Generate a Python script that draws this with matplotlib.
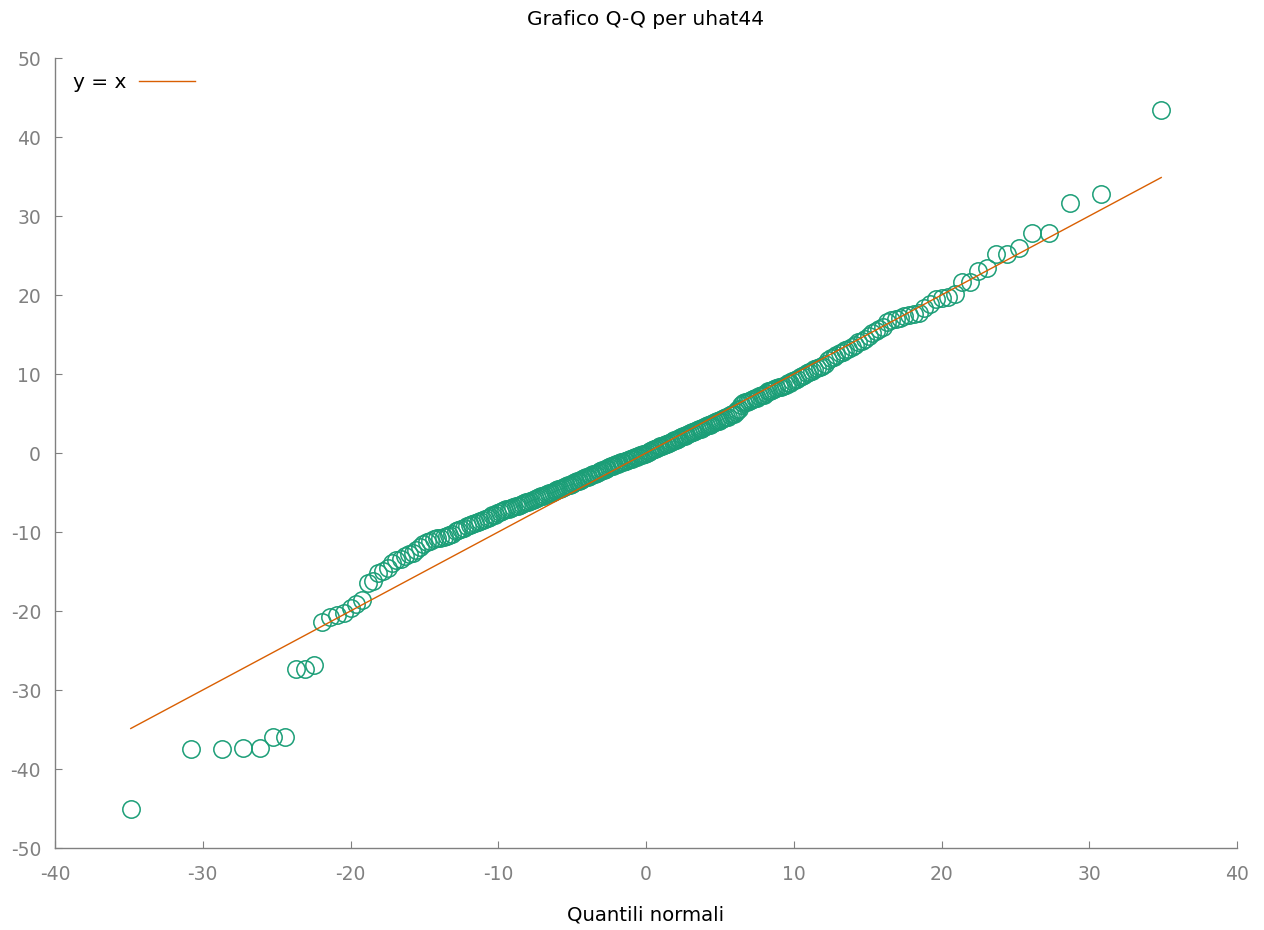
import matplotlib
matplotlib.use("Agg")
import matplotlib.pyplot as plt

plt.rcParams["axes.unicode_minus"] = False

# theoretical normal quantiles (x) and sorted residuals uhat44 (y)
qx = [
    -34.87, -30.80, -28.70, -27.25, -26.15, -25.22, -24.45, -23.72, -23.08, -22.46,
    -21.91, -21.37, -20.89, -20.44, -20.00, -19.60, -19.21, -18.82, -18.46, -18.14,
    -17.81, -17.48, -17.19, -16.90, -16.61, -16.32, -16.05, -15.80, -15.56, -15.30,
    -15.06, -14.82, -14.60, -14.37, -14.15, -13.92, -13.70, -13.49, -13.30, -13.10,
    -12.89, -12.70, -12.50, -12.31, -12.13, -11.94, -11.77, -11.59, -11.40, -11.22,
    -11.06, -10.89, -10.72, -10.56, -10.39, -10.22, -10.06, -9.89, -9.74, -9.60,
    -9.45, -9.29, -9.14, -8.99, -8.83, -8.68, -8.54, -8.39, -8.25, -8.11,
    -7.97, -7.82, -7.68, -7.54, -7.41, -7.26, -7.13, -7.00, -6.86, -6.73,
    -6.59, -6.46, -6.32, -6.19, -6.06, -5.94, -5.80, -5.68, -5.55, -5.43,
    -5.29, -5.17, -5.04, -4.92, -4.79, -4.67, -4.55, -4.43, -4.30, -4.18,
    -4.06, -3.94, -3.81, -3.69, -3.57, -3.45, -3.34, -3.21, -3.09, -2.98,
    -2.86, -2.73, -2.62, -2.50, -2.38, -2.26, -2.14, -2.03, -1.91, -1.80,
    -1.68, -1.56, -1.45, -1.33, -1.21, -1.10, -0.98, -0.87, -0.75, -0.63,
    -0.52, -0.41, -0.29, -0.17, -0.06,
    0.06, 0.17, 0.29, 0.41, 0.52, 0.63, 0.75, 0.87, 0.98, 1.10,
    1.21, 1.33, 1.45, 1.56, 1.68, 1.80, 1.91, 2.03, 2.14, 2.26,
    2.38, 2.50, 2.62, 2.73, 2.86, 2.98, 3.09, 3.21, 3.34, 3.45,
    3.57, 3.69, 3.81, 3.94, 4.06, 4.18, 4.30, 4.43, 4.55, 4.67,
    4.79, 4.92, 5.04, 5.17, 5.29, 5.43, 5.55, 5.68, 5.80, 5.94,
    6.06, 6.19, 6.32, 6.46, 6.59, 6.73, 6.86, 7.00, 7.13, 7.26,
    7.41, 7.54, 7.68, 7.82, 7.97, 8.11, 8.25, 8.39, 8.54, 8.68,
    8.83, 8.99, 9.14, 9.29, 9.45, 9.60, 9.74, 9.89, 10.06, 10.22,
    10.39, 10.56, 10.72, 10.89, 11.06, 11.22, 11.40, 11.59, 11.77, 11.94,
    12.13, 12.31, 12.50, 12.70, 12.89, 13.10, 13.30, 13.49, 13.70, 13.92,
    14.15, 14.37, 14.60, 14.82, 15.06, 15.30, 15.56, 15.80, 16.05, 16.32,
    16.61, 16.90, 17.19, 17.48, 17.81, 18.14, 18.46, 18.82, 19.21, 19.60,
    20.00, 20.44, 20.89, 21.37, 21.91, 22.46, 23.08, 23.72, 24.45, 25.22,
    26.15, 27.25, 28.70, 30.80, 34.87,
]

qy = [
    -45.1, -37.5, -37.5, -37.3, -37.3, -35.9, -35.9, -27.4, -27.4, -26.8,
    -21.4, -20.8, -20.5, -20.2, -19.6, -19.1, -18.6, -16.5, -16.2, -15.2,
    -14.9, -14.5, -13.9, -13.6, -13.4, -13.0, -12.8, -12.6, -12.3, -11.9,
    -11.5, -11.3, -11.1, -10.9, -10.8, -10.7, -10.6, -10.5, -10.4, -10.2,
    -9.9, -9.75, -9.6, -9.45, -9.3, -9.15, -9.0, -8.9, -8.75, -8.6,
    -8.45, -8.3, -8.2, -8.05, -7.9, -7.8, -7.65, -7.5, -7.4, -7.25,
    -7.15, -7.05, -6.95, -6.85, -6.75, -6.65, -6.55, -6.45, -6.35, -6.25,
    -6.15, -6.05, -5.95, -5.85, -5.75, -5.6, -5.5, -5.4, -5.3, -5.2,
    -5.1, -5.0, -4.9, -4.8, -4.7, -4.6, -4.5, -4.4, -4.3, -4.2,
    -4.1, -4.0, -3.9, -3.8, -3.7, -3.6, -3.5, -3.4, -3.3, -3.2,
    -3.1, -3.0, -2.9, -2.8, -2.7, -2.6, -2.5, -2.4, -2.3, -2.2,
    -2.1, -2.0, -1.9, -1.8, -1.7, -1.6, -1.5, -1.45, -1.35, -1.3,
    -1.2, -1.1, -1.0, -0.95, -0.85, -0.8, -0.7, -0.6, -0.5, -0.45,
    -0.35, -0.3, -0.2, -0.15, -0.1,
    0.05, 0.15, 0.25, 0.35, 0.45, 0.55, 0.65, 0.75, 0.85, 0.9,
    1.0, 1.1, 1.2, 1.3, 1.4, 1.5, 1.6, 1.7, 1.8, 1.9,
    2.0, 2.1, 2.2, 2.3, 2.4, 2.5, 2.6, 2.7, 2.8, 2.9,
    3.0, 3.1, 3.2, 3.3, 3.4, 3.5, 3.6, 3.7, 3.8, 3.9,
    4.0, 4.1, 4.2, 4.3, 4.4, 4.5, 4.6, 4.8, 4.9, 5.0,
    5.2, 5.4, 5.6, 6.1, 6.3, 6.4, 6.5, 6.6, 6.7, 6.8,
    6.9, 7.0, 7.2, 7.3, 7.4, 7.6, 7.8, 7.9, 8.0, 8.1,
    8.2, 8.3, 8.4, 8.5, 8.6, 8.8, 8.9, 9.1, 9.3, 9.4,
    9.6, 9.8, 9.9, 10.1, 10.3, 10.4, 10.6, 10.7, 10.9, 11.0,
    11.3, 11.8, 12.0, 12.2, 12.4, 12.6, 12.8, 13.0, 13.2, 13.4,
    13.7, 14.0, 14.2, 14.4, 14.8, 15.2, 15.5, 15.7, 16.0, 16.6,
    16.8, 16.9, 17.1, 17.3, 17.5, 17.6, 17.7, 18.4, 18.8, 19.5,
    19.6, 19.7, 20.1, 21.6, 21.7, 23.0, 23.4, 25.2, 25.2, 25.9,
    27.8, 27.8, 31.7, 32.75, 43.4,
]

xticks = [-40, -30, -20, -10, 0, 10, 20, 30, 40]
yticks = [-50, -40, -30, -20, -10, 0, 10, 20, 30, 40, 50]

grey = "#808080"
green = "#1b9e77"
orange = "#d95f02"

fig = plt.figure(figsize=(12.64, 9.30), dpi=100)
ax = fig.add_axes([55/1264, 1 - 848/930, (1237 - 55)/1264, (848 - 58)/930])

ax.plot(qx, qy, linestyle="none", marker="o", markersize=12.5,
        markerfacecolor="none", markeredgecolor=green, markeredgewidth=1.1)
ax.plot([qx[0], qx[-1]], [qx[0], qx[-1]], color=orange, linewidth=1.0, label="y = x")

ax.set_xlim(-40, 40)
ax.set_ylim(-50, 50)
ax.set_xticks(xticks)
ax.set_yticks(yticks)

for side in ["top", "right"]:
    ax.spines[side].set_visible(False)
for side in ["left", "bottom"]:
    ax.spines[side].set_color(grey)
    ax.spines[side].set_linewidth(1.0)

ax.tick_params(axis="both", direction="in", length=5, color=grey,
               labelcolor=grey, labelsize=13.5)
ax.tick_params(axis="x", pad=12)
ax.tick_params(axis="y", pad=10)

ax.set_title("Grafico Q-Q per uhat44", fontsize=14.5, pad=24)
ax.set_xlabel("Quantili normali", fontsize=14.2, labelpad=16)

leg = ax.legend(loc="upper left", frameon=False, markerfirst=False,
                fontsize=14.5, handlelength=2.8, handletextpad=0.6,
                bbox_to_anchor=(0.0, 1.004))

fig.savefig("out.png", dpi=100)
